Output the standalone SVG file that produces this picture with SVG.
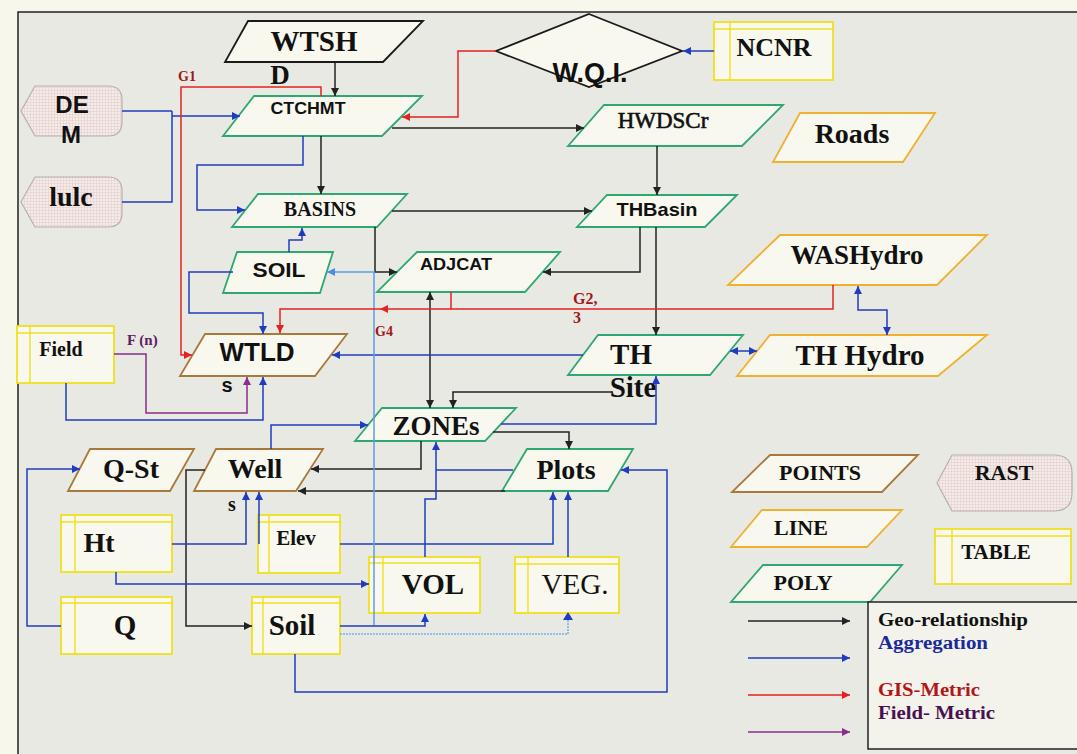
<svg xmlns="http://www.w3.org/2000/svg" width="1077" height="754" viewBox="0 0 1077 754">
<style>
.pg{fill:#f8f8ee;stroke-width:1.8}
.g{stroke:#2ea872}
.b{stroke:#a8783c}
.o{stroke:#f0b030}
.k{stroke:#1a1a1a}
.tb{fill:#f8f8ee;stroke:#f0e020;stroke-width:1.8}
.tl{fill:none;stroke:#f0e020;stroke-width:1.4}
.ra{fill:url(#grid);stroke:#b8b0ae;stroke-width:1.2}
.s{font-family:"Liberation Serif","Times New Roman",serif;font-weight:bold;fill:#111}
.a{font-family:"Liberation Sans",Arial,sans-serif;font-weight:bold;fill:#111}
.n{font-family:"Liberation Serif","Times New Roman",serif;font-weight:normal;fill:#111}
.lab{font-family:"Liberation Serif","Times New Roman",serif;font-weight:bold}
.c{fill:none;stroke-width:1.5}
.ck{stroke:#222;marker-end:url(#mk)}
.cb{stroke:#1f3cc0;marker-end:url(#mb)}
.cr{stroke:#e52222;marker-end:url(#mr)}
.cp{stroke:#8b2c8c;marker-end:url(#mp)}
.cl{stroke:#5c9ce6;marker-end:url(#ml)}
</style>
<defs>
<pattern id="grid" width="3" height="3" patternUnits="userSpaceOnUse">
<rect width="3" height="3" fill="#f3ece8"/>
<path d="M0,0.5 H3 M0.5,0 V3" stroke="#e6cfcc" stroke-width="0.6"/>
</pattern>
<marker id="mk" viewBox="0 0 10 10" refX="10" refY="5" markerWidth="9" markerHeight="8" markerUnits="userSpaceOnUse" orient="auto-start-reverse"><path d="M0,0 L10,5 L0,10 z" fill="#222"/></marker>
<marker id="mb" viewBox="0 0 10 10" refX="10" refY="5" markerWidth="9" markerHeight="8" markerUnits="userSpaceOnUse" orient="auto-start-reverse"><path d="M0,0 L10,5 L0,10 z" fill="#1f3cc0"/></marker>
<marker id="mr" viewBox="0 0 10 10" refX="10" refY="5" markerWidth="9" markerHeight="8" markerUnits="userSpaceOnUse" orient="auto-start-reverse"><path d="M0,0 L10,5 L0,10 z" fill="#e52222"/></marker>
<marker id="mp" viewBox="0 0 10 10" refX="10" refY="5" markerWidth="9" markerHeight="8" markerUnits="userSpaceOnUse" orient="auto-start-reverse"><path d="M0,0 L10,5 L0,10 z" fill="#8b2c8c"/></marker>
<marker id="ml" viewBox="0 0 10 10" refX="10" refY="5" markerWidth="9" markerHeight="8" markerUnits="userSpaceOnUse" orient="auto-start-reverse"><path d="M0,0 L10,5 L0,10 z" fill="#4a8ee6"/></marker>
</defs>

<rect x="0" y="0" width="1077" height="754" fill="#f7f7ec"/>
<rect x="18" y="12" width="1070" height="760" fill="#e9e9e3" stroke="#222" stroke-width="1.5"/>

<!-- nodes -->
<g id="WTSH"><polygon class="pg k" points="248,21 423,21 383,62 225,62"/><text class="s" x="314" y="51" font-size="29" text-anchor="middle">WTSH</text><text class="s" x="280" y="84" font-size="27" text-anchor="middle">D</text></g>
<g id="WQI"><polygon class="pg k" points="589,14 682,51 589,87 496,51"/><text class="a" x="590" y="82" font-size="27" text-anchor="middle">W.Q.I.</text></g>
<g id="NCNR"><rect class="tb" x="714" y="22" width="119" height="58"/><path class="tl" d="M730,22 V80 M714,29 H833"/><text class="s" x="774" y="56" font-size="26" text-anchor="middle">NCNR</text></g>
<g id="CTCHMT"><polygon class="pg g" points="254,96 422,96 382,136 223,136"/><text class="a" x="308" y="114" font-size="16" text-anchor="middle" textLength="75" lengthAdjust="spacingAndGlyphs">CTCHMT</text></g>
<g id="DEM"><path class="ra" d="M35,86 H108 Q122,86 122,100 V122 Q122,136 108,136 H35 L21,111 Z"/><text class="a" x="72" y="113" font-size="24" text-anchor="middle">DE</text><text class="a" x="71" y="143" font-size="24" text-anchor="middle">M</text></g>
<g id="lulc"><path class="ra" d="M35,177 H108 Q122,177 122,191 V213 Q122,227 108,227 H35 L21,202 Z"/><text class="s" x="71" y="206" font-size="28" text-anchor="middle">lulc</text></g>
<g id="HWDSCr"><polygon class="pg g" points="604,105 783,105 742,146 568,146"/><text class="n" x="663" y="128" font-size="23" text-anchor="middle" stroke="#111" stroke-width="0.6">HWDSCr</text></g>
<g id="Roads"><polygon class="pg o" points="800,113 935,113 903,162 773,162"/><text class="s" x="852" y="143" font-size="28" text-anchor="middle">Roads</text></g>
<g id="BASINS"><polygon class="pg g" points="258,194 407,194 377,227 232,227"/><text class="s" x="320" y="216" font-size="20" text-anchor="middle">BASINS</text></g>
<g id="THBasin"><polygon class="pg g" points="607,195 737,195 705,227 577,227"/><text class="a" x="657" y="216" font-size="19" text-anchor="middle" textLength="81" lengthAdjust="spacingAndGlyphs">THBasin</text></g>
<g id="WASHydro"><polygon class="pg o" points="780,235 987,235 937,285 728,285"/><text class="s" x="857" y="264" font-size="27" text-anchor="middle">WASHydro</text></g>
<g id="SOIL"><polygon class="pg g" points="237,252 333,252 320,293 223,293"/><text class="a" x="279" y="277" font-size="20" text-anchor="middle" textLength="53" lengthAdjust="spacingAndGlyphs">SOIL</text></g>
<g id="ADJCAT"><polygon class="pg g" points="417,252 560,252 525,292 377,292"/><text class="a" x="456" y="270" font-size="16" text-anchor="middle" textLength="72" lengthAdjust="spacingAndGlyphs">ADJCAT</text></g>
<g id="Field"><rect class="tb" x="17" y="326" width="97" height="57"/><path class="tl" d="M30,326 V383 M17,333 H114"/><text class="s" x="61" y="356" font-size="20" text-anchor="middle">Field</text></g>
<g id="WTLDs"><polygon class="pg b" points="205,334 347,334 315,376 180,376"/><text class="a" x="257" y="361" font-size="26" text-anchor="middle">WTLD</text><text class="a" x="227" y="392" font-size="20" text-anchor="middle">s</text></g>
<g id="THSite"><polygon class="pg g" points="598,335 743,335 710,375 568,375"/><text class="s" x="631" y="364" font-size="29" text-anchor="middle">TH</text><text class="s" x="633" y="397" font-size="29" text-anchor="middle">Site</text></g>
<g id="THHydro"><polygon class="pg o" points="770,335 987,335 938,376 737,376"/><text class="s" x="860" y="365" font-size="29" text-anchor="middle">TH Hydro</text></g>
<g id="ZONEs"><polygon class="pg g" points="382,408 516,408 485,441 355,441"/><text class="s" x="436" y="435" font-size="27" text-anchor="middle">ZONEs</text></g>
<g id="QSt"><polygon class="pg b" points="90,449 194,449 170,491 68,491"/><text class="s" x="131" y="478" font-size="28" text-anchor="middle">Q-St</text></g>
<g id="Wells"><polygon class="pg b" points="216,449 323,449 296,491 194,491"/><text class="s" x="255" y="478" font-size="28" text-anchor="middle">Well</text><text class="s" x="232" y="511" font-size="20" text-anchor="middle">s</text></g>
<g id="Plots"><polygon class="pg g" points="527,449 633,449 608,491 502,491"/><text class="s" x="566" y="479" font-size="28" text-anchor="middle">Plots</text></g>
<g id="Ht"><rect class="tb" x="61" y="515" width="111" height="57"/><path class="tl" d="M75,515 V572 M61,522 H172"/><text class="s" x="99" y="552" font-size="28" text-anchor="middle">Ht</text></g>
<g id="Elev"><rect class="tb" x="258" y="515" width="82" height="58"/><path class="tl" d="M269,515 V573 M258,522 H340"/><text class="s" x="296" y="545" font-size="21" text-anchor="middle">Elev</text></g>
<g id="VOL"><rect class="tb" x="369" y="557" width="111" height="56"/><path class="tl" d="M383,557 V613 M369,563 H480"/><text class="s" x="433" y="594" font-size="29" text-anchor="middle">VOL</text></g>
<g id="VEG"><rect class="tb" x="515" y="557" width="104" height="56"/><path class="tl" d="M528,557 V613 M515,564 H619"/><text class="n" x="575" y="594" font-size="29" text-anchor="middle">VEG.</text></g>
<g id="Q"><rect class="tb" x="61" y="597" width="111" height="57"/><path class="tl" d="M75,597 V654 M61,603 H172"/><text class="s" x="125" y="635" font-size="29" text-anchor="middle">Q</text></g>
<g id="Soil"><rect class="tb" x="252" y="597" width="88" height="57"/><path class="tl" d="M263,597 V654 M252,603 H340"/><text class="s" x="292" y="635" font-size="29" text-anchor="middle">Soil</text></g>

<!-- legend -->
<g id="legend-POINTS"><polygon class="pg b" points="770,455 918,455 882,492 732,492"/><text class="s" x="820" y="480" font-size="22" text-anchor="middle">POINTS</text></g>
<g id="legend-LINE"><polygon class="pg o" points="762,510 902,510 867,547 731,547"/><text class="s" x="801" y="535" font-size="22" text-anchor="middle">LINE</text></g>
<g id="legend-POLY"><polygon class="pg g" points="763,565 902,565 870,602 731,602"/><text class="s" x="803" y="590" font-size="22" text-anchor="middle">POLY</text></g>
<g id="legend-RAST"><path class="ra" d="M952,455 H1054 Q1072,455 1072,473 V493 Q1072,511 1054,511 H952 L937,483 Z"/><text class="s" x="1004" y="480" font-size="22" text-anchor="middle">RAST</text></g>
<g id="legend-TABLE"><rect class="tb" x="935" y="529" width="136" height="55"/><path class="tl" d="M952,529 V584 M935,536 H1071"/><text class="s" x="996" y="559" font-size="21" text-anchor="middle">TABLE</text></g>
<g id="legend-box"><rect x="868" y="602" width="220" height="147" fill="#f3f3ec" stroke="#222" stroke-width="1.5"/>
<text class="lab" x="878" y="626" font-size="18" fill="#111" textLength="150" lengthAdjust="spacingAndGlyphs">Geo-relationship</text>
<text class="lab" x="878" y="649" font-size="18" fill="#1a2a98" textLength="110" lengthAdjust="spacingAndGlyphs">Aggregation</text>
<text class="lab" x="878" y="696" font-size="18" fill="#b01818" textLength="102" lengthAdjust="spacingAndGlyphs">GIS-Metric</text>
<text class="lab" x="878" y="719" font-size="18" fill="#4a1050" textLength="117" lengthAdjust="spacingAndGlyphs">Field- Metric</text>
</g>

<!-- connectors -->
<g id="connectors">
<path class="c ck" d="M335,62 V96"/>
<path class="c ck" d="M321,136 V194"/>
<path class="c ck" d="M392,128 H584"/>
<path class="c ck" d="M392,211 H592"/>
<path class="c ck" d="M657,146 V195"/>
<path class="c ck" d="M640,227 V272 H543"/>
<path class="c ck" d="M656,227 V335"/>
<path class="c ck" d="M375,227 V272 H397"/>
<path class="c ck" d="M430,292 V408" marker-start="url(#mk)"/>
<path class="c ck" d="M612,392 H453 V408"/>
<path class="c ck" d="M493,432 H569 V449"/>
<path class="c ck" d="M421,441 V469 H311"/>
<path class="c ck" d="M505,491 H298"/>
<path class="c ck" d="M205,470 H186 V626 H252"/>

<path class="c" stroke="#1f3cc0" d="M122,111 H172 M122,202 H172 V111"/>
<path class="c cb" d="M172,116 H240"/>
<path class="c cb" d="M303,136 V165 H197 V210 H245"/>
<path class="c cb" d="M289,252 V240 H302 V228"/>
<path class="c cb" d="M233,272 H189 V313 H263 V334"/>
<path class="c cb" d="M583,355 H332"/>
<path class="c cb" d="M66,383 V420 H263 V377"/>
<path class="c cb" d="M730,351 H757" marker-start="url(#mb)"/>
<path class="c cb" d="M858,286 V310 H887 V335" marker-start="url(#mb)"/>
<path class="c cb" d="M714,51 H683"/>
<path class="c cb" d="M501,424 H656 V376"/>
<path class="c cb" d="M271,449 V425 H368"/>
<path class="c cb" d="M61,626 H27 V469 H80"/>
<path class="c cb" d="M172,544 H246 V492"/>
<path class="c cb" d="M259,544 V492"/>
<path class="c cb" d="M116,572 V584 H369"/>
<path class="c cb" d="M340,544 H553 V492"/>
<path class="c cb" d="M425,557 V499 H436 V442"/>
<path class="c" stroke="#1f3cc0" d="M513,470 H436"/>
<path class="c cb" d="M568,557 V492"/>
<path class="c cb" d="M295,654 V692 H667 V470 H621"/>
<path class="c cb" d="M340,626 H425 V614"/>

<path class="c cl" stroke-width="1.3" d="M374,625 V272 H327"/>
<path class="c" stroke="#7aaee8" stroke-width="1.2" stroke-dasharray="2,1" d="M340,634 H568 V616"/>
<path d="M563,620 L568,612 L573,620 Z" fill="#1f3cc0"/>

<path class="c cr" d="M321,96 V87 H181 V355 H192"/>
<path class="c cr" d="M496,51 H458 V117 H402"/>
<path class="c cr" d="M833,285 V309 H380"/>
<path class="c cr" d="M380,309 H280 V333"/>
<path class="c" stroke="#e52222" d="M451,292 V309"/>

<path class="c cp" d="M114,354 H146 V413 H247 V377"/>

<path class="c ck" d="M748,621 H850"/>
<path class="c cb" d="M748,658 H850"/>
<path class="c cr" d="M748,695 H850"/>
<path class="c cp" d="M748,732 H850"/>
</g>

<g id="labels">
<text class="lab" x="178" y="81" font-size="14" fill="#a01818">G1</text>
<text class="lab" x="573" y="304" font-size="16" fill="#a01818">G2,</text>
<text class="lab" x="573" y="323" font-size="16" fill="#a01818">3</text>
<text class="lab" x="375" y="336" font-size="14" fill="#a01818">G4</text>
<text class="lab" x="127" y="345" font-size="15" fill="#5a2060">F (n)</text>
</g>
</svg>
